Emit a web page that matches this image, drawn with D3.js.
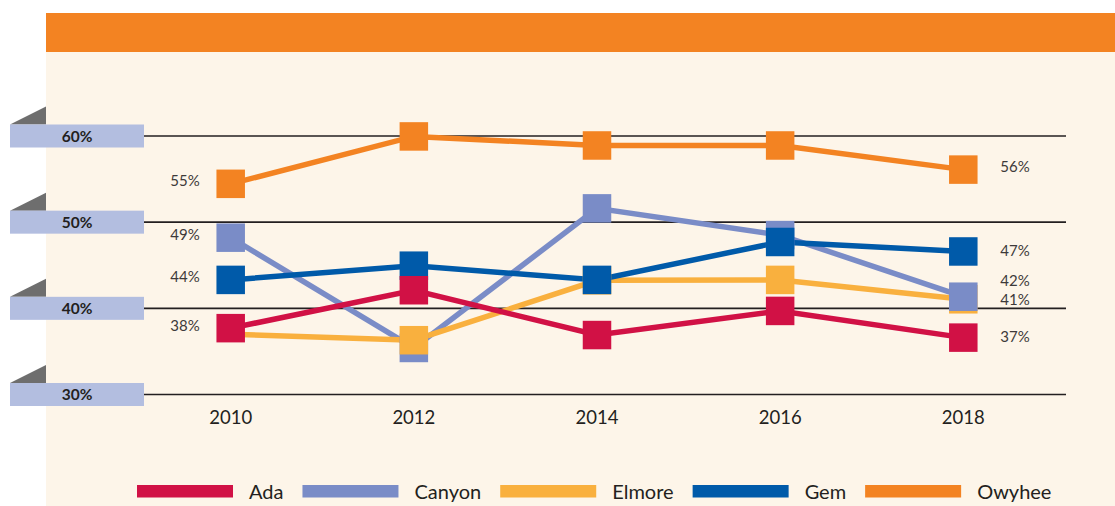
<!DOCTYPE html>
<html><head><meta charset="utf-8">
<script src="https://cdn.jsdelivr.net/npm/d3@7"></script>
<style>
html,body{margin:0;padding:0;background:#fff;}
svg{display:block;}
text{font-family:Lato,"Open Sans",sans-serif;}
</style></head>
<body>
<svg id="chart" width="1115" height="506"></svg>
<script>
// ---- data ----
const years = ["2010","2012","2014","2016","2018"];
const seriesNames = ["Ada","Canyon","Elmore","Gem","Owyhee"];
const ada    = [37.7, 42.1, 36.9, 39.7, 36.6];
const canyon = [48.2, 35.4, 51.6, 48.5, 41.35];
const elmore = [37.0, 36.3, 43.25, 43.3, 41.05];
const gem    = [43.3, 44.95, 43.3, 47.7, 46.6];
const owyhee = [54.45, 59.95, 58.9, 58.9, 56.1];
const yTicks = [30, 40, 50, 60];
const tickLabels = ["30%","40%","50%","60%"];
// printed end labels (first / last year)
const startLabels = {Ada:"38%", Canyon:"49%", Gem:"44%", Owyhee:"55%"};
const endLabels   = {Ada:"37%", Canyon:"42%", Elmore:"41%", Gem:"47%", Owyhee:"56%"};
// points drawn without a square marker in the original
const hiddenMarkers = {Elmore:["2010"]};

const colors = {Ada:"#d11145", Canyon:"#7a8cc7", Elmore:"#f9b03e", Gem:"#005aa9", Owyhee:"#f38322"};
const values = {Ada:ada, Canyon:canyon, Elmore:elmore, Gem:gem, Owyhee:owyhee};
// drawing order (back to front)
const drawOrder = ["Canyon","Elmore","Gem","Ada","Owyhee"];

const svg = d3.select("#chart");
const W = 1115, H = 506;

// panel + header
svg.append("rect").attr("x",46).attr("y",52).attr("width",W-46).attr("height",H-52).attr("fill","#fdf5e9");
svg.append("rect").attr("x",46).attr("y",13).attr("width",W-46).attr("height",39).attr("fill","#f38322");

const x = d3.scalePoint().domain(years).range([230.7, 963.3]);
const y = d3.scaleLinear().domain([30,60]).range([394.5,136]);

// grid lines + tabs
const tick = svg.append("g").selectAll("g").data(yTicks).join("g");
tick.append("line").attr("x1",144).attr("x2",1066)
  .attr("y1",d=>y(d)).attr("y2",d=>y(d)).attr("stroke","#231f20").attr("stroke-width",1.6);
tick.append("path").attr("d",d=>`M10,${y(d)-11.5}L46,${y(d)-11.5}L46,${y(d)-29.5}Z`).attr("fill","#6e6e6e");
tick.append("rect").attr("x",10).attr("y",d=>y(d)-11.5).attr("width",134).attr("height",23).attr("fill","#b3bee0");
tick.append("text").attr("x",77).attr("y",d=>y(d)).attr("dy","0.36em").attr("text-anchor","middle")
  .attr("font-size",15.5).attr("font-weight","bold").attr("fill","#231f20")
  .text((d,i)=>tickLabels[i]);

// x axis labels
svg.append("g").selectAll("text").data(years).join("text")
  .attr("x",d=>x(d)).attr("y",418).attr("dy","0.35em").attr("text-anchor","middle")
  .attr("font-size",18.5).attr("fill","#231f20").text(d=>d);

// lines
const line = d3.line().x((d,i)=>x(years[i])).y(d=>y(d));
const linesG = svg.append("g");
drawOrder.forEach(s=>{
  linesG.append("path").datum(values[s]).attr("d",line).attr("fill","none")
    .attr("stroke",colors[s]).attr("stroke-width",5.5).attr("stroke-linejoin","miter");
});
// markers
const M = 28.5;
const markG = svg.append("g");
drawOrder.forEach(s=>{
  const hide = hiddenMarkers[s] || [];
  const pts = values[s].map((v,i)=>({v, yr:years[i]})).filter(p=>!hide.includes(p.yr));
  markG.append("g").attr("class","m-"+s).selectAll("rect").data(pts).join("rect")
    .attr("x",p=>x(p.yr)-M/2).attr("y",p=>y(p.v)-M/2)
    .attr("width",M).attr("height",M).attr("fill",colors[s]);
});
// Canyon's 2018 marker sits in front of Elmore's
markG.select(".m-Canyon").selectAll("rect").filter(p=>p.yr==="2018").each(function(){
  markG.node().appendChild(this);
});

// value labels
const labG = svg.append("g").attr("font-size",15).attr("fill","#3d3a3a");
Object.entries(startLabels).forEach(([s,t])=>{
  labG.append("text").attr("x",x(years[0])-31).attr("y",y(values[s][0])-3).attr("dy","0.36em")
    .attr("text-anchor","end").text(t);
});
const endNudge = {Canyon:-16, Elmore:0, Ada:-1, Gem:-1, Owyhee:-3};
Object.entries(endLabels).forEach(([s,t])=>{
  labG.append("text").attr("x",x(years[4])+37).attr("y",y(values[s][4])+(endNudge[s]||0)).attr("dy","0.36em")
    .attr("text-anchor","start").text(t);
});

// legend
const leg = svg.append("g");
let lx = 137;
seriesNames.forEach(s=>{
  leg.append("rect").attr("x",lx).attr("y",485).attr("width",96).attr("height",12.5).attr("fill",colors[s]);
  const t = leg.append("text").attr("x",lx+112).attr("y",491.5).attr("dy","0.36em")
    .attr("font-size",20).attr("fill","#231f20").text(s);
  lx += 112 + t.node().getComputedTextLength() + 19;
});
</script>
</body></html>
